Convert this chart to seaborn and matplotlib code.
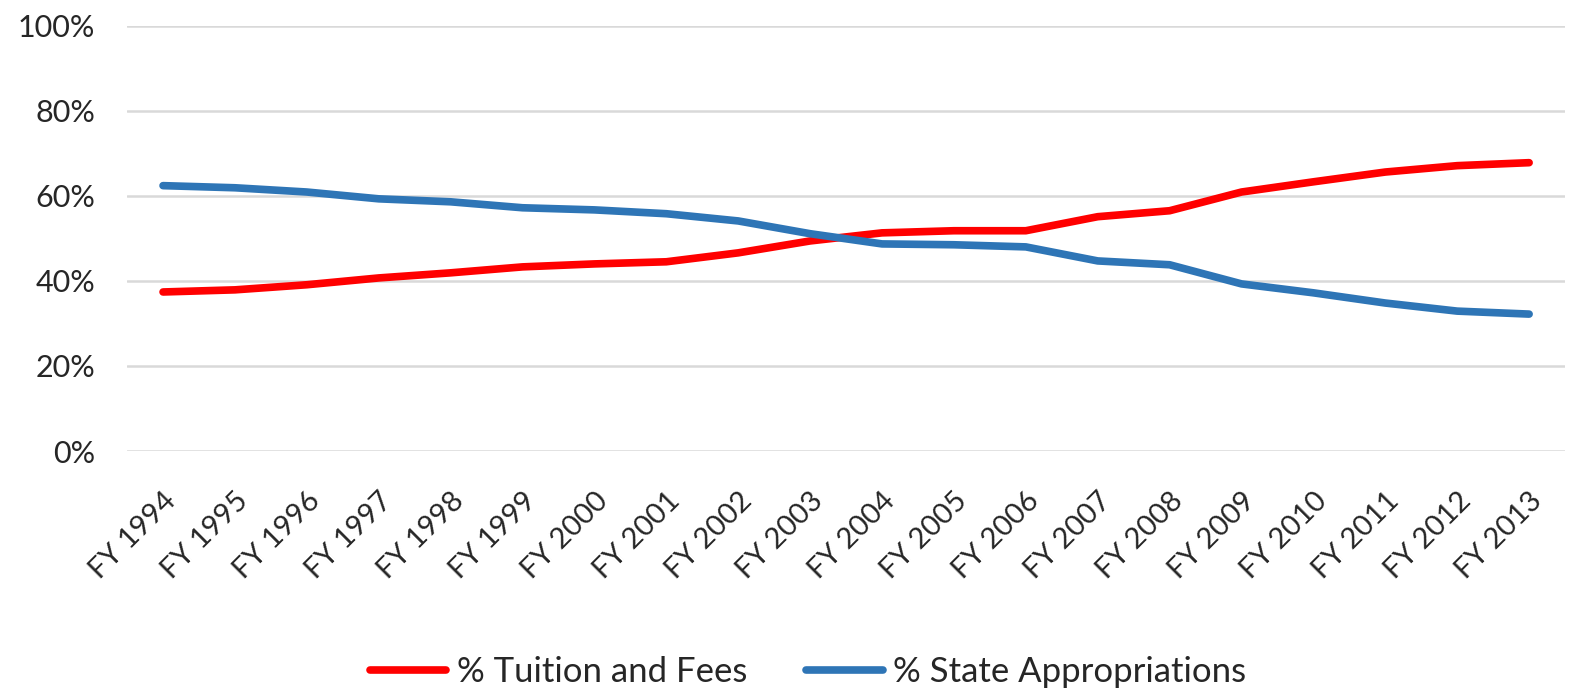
import pandas as pd
import numpy as np
import matplotlib.pyplot as plt
import seaborn as sns
from matplotlib.ticker import PercentFormatter

years = ['FY 1994', 'FY 1995', 'FY 1996', 'FY 1997', 'FY 1998', 'FY 1999', 'FY 2000',
         'FY 2001', 'FY 2002', 'FY 2003', 'FY 2004', 'FY 2005', 'FY 2006', 'FY 2007',
         'FY 2008', 'FY 2009', 'FY 2010', 'FY 2011', 'FY 2012', 'FY 2013']
tuition = [37.4, 37.9, 39.1, 40.7, 41.9, 43.3, 44.0, 44.5, 46.6, 49.4,
           51.3, 51.8, 51.8, 55.1, 56.5, 60.9, 63.3, 65.6, 67.1, 67.8]
state = [62.4, 61.9, 60.9, 59.3, 58.6, 57.2, 56.7, 55.8, 54.1, 51.1,
         48.7, 48.5, 48.0, 44.7, 43.8, 39.3, 37.2, 34.8, 32.9, 32.2]
series_names = ['% Tuition and Fees', '% State Appropriations']

df = pd.DataFrame({'year': years * 2,
                   'value': tuition + state,
                   'series': [series_names[0]] * len(years) + [series_names[1]] * len(years)})

sns.set_style('white')
plt.rcParams['font.family'] = ['Lato', 'DejaVu Sans']

fig = plt.figure(figsize=(15.69, 6.95), dpi=100)
ax = fig.add_axes([0.081, 0.351, 0.9165, 0.612])

sns.lineplot(data=df, x='year', y='value', hue='series', sort=False,
             palette={series_names[0]: '#FF0000', series_names[1]: '#2E75B6'},
             linewidth=5.5, solid_capstyle='round', ax=ax, legend=True)

ax.set_xlim(-0.5, len(years) - 0.5)
ax.set_ylim(0, 100)
ax.set_yticks(np.arange(0, 101, 20))
ax.yaxis.set_major_formatter(PercentFormatter(decimals=0))
ax.grid(axis='y', color='#D9D9D9', linewidth=1.8)
ax.set_axisbelow(True)
for s in ax.spines.values():
    s.set_visible(False)
ax.tick_params(axis='both', length=0, colors='#262626')
ax.tick_params(axis='y', pad=23, labelsize=22)
ax.set_xticks(range(len(years)))
ax.set_xticklabels(years, rotation=45, ha='right', va='top', rotation_mode='anchor')
ax.tick_params(axis='x', pad=26, labelsize=21)
ax.set_xlabel('')
ax.set_ylabel('')

handles, labels = ax.get_legend_handles_labels()
ax.get_legend().remove()
fig.legend(handles, labels, loc='lower center', bbox_to_anchor=(0.515, -0.035), ncol=2,
           frameon=False, fontsize=25, handlelength=2.2, handletextpad=0.3, columnspacing=1.7)

plt.savefig('out.png', dpi=100)
